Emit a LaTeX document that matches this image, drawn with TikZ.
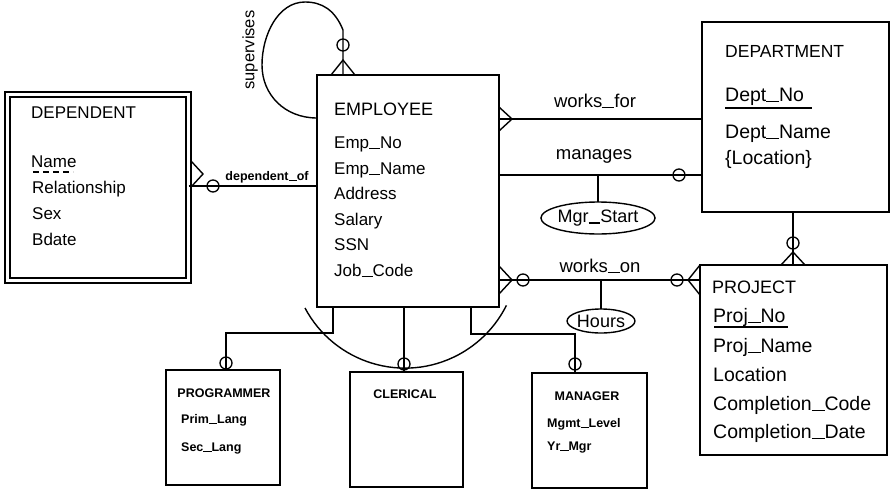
\documentclass[tikz,border=0pt]{standalone}
\usepackage{fontspec}
\setmainfont{Liberation Sans}
\usetikzlibrary{shapes.geometric}
% wide underscore as used in the attribute names
\newcommand\usc{\rule[-0.07em]{0.65em}{0.085em}}
\tikzset{
  ln/.style={line width=1.4pt},
  ebox/.style={draw, rectangle, line width=1.6pt, inner sep=0pt, outer sep=0pt, anchor=north west},
  circ/.style={draw, circle, line width=1.3pt, minimum size=12pt, inner sep=0pt, outer sep=0pt},
  attrell/.style={draw, ellipse, line width=1.4pt, inner sep=0pt, outer sep=0pt, font=\fontsize{18}{20}\selectfont},
  ttl/.style={anchor=base west, inner sep=0pt, font=\fontsize{17.5}{20}\selectfont},
  att/.style={anchor=base west, inner sep=0pt, font=\fontsize{17}{20}\selectfont},
  bigatt/.style={anchor=base west, inner sep=0pt, font=\fontsize{19.5}{22}\selectfont},
  rel/.style={anchor=base, inner sep=0pt, font=\fontsize{18.5}{20}\selectfont},
  smlttl/.style={anchor=base, inner sep=0pt, font=\bfseries\fontsize{12.5}{14}\selectfont},
  sml/.style={anchor=base west, inner sep=0pt, font=\bfseries\fontsize{12.5}{14}\selectfont},
}
\begin{document}
\begin{tikzpicture}[x=1pt, y=-1pt]
\useasboundingbox (0,0) rectangle (892,490);

% ---------- entity boxes ----------
\node[ebox, minimum width=182pt, minimum height=232pt] (emp) at (317,75) {};
\node[ebox, double, double distance=3.6pt, line width=1.4pt, minimum width=181pt, minimum height=186pt] (dep) at (7.5,94.5) {};
\node[ebox, minimum width=187pt, minimum height=190pt] (dept) at (702,22) {};
\node[ebox, minimum width=187pt, minimum height=190pt] (proj) at (700,265) {};
\node[ebox, minimum width=114pt, minimum height=115pt] (prog) at (166,370) {};
\node[ebox, minimum width=113pt, minimum height=115pt] (cler) at (350,372) {};
\node[ebox, minimum width=115pt, minimum height=115pt] (mgr) at (532,373) {};

% ---------- EMPLOYEE ----------
\node[ttl, font=\fontsize{18}{20}\selectfont] (empT) at (334,115) {EMPLOYEE};
\foreach \t/\y [count=\i] in {Emp\usc No/148, Emp\usc Name/174, Address/199, Salary/225, SSN/250, Job\usc Code/276}
  \node[att] (empA\i) at (334,\y) {\t};

% ---------- DEPENDENT ----------
\node[ttl, font=\fontsize{17}{20}\selectfont] (depT) at (31,118) {DEPENDENT};
\node[att] (depA1) at (31,167) {Name};
\foreach \t/\y [count=\i from 2] in {Relationship/193, Sex/219, Bdate/245}
  \node[att] (depA\i) at (32,\y) {\t};
\draw[line width=1.2pt, dash pattern=on 6pt off 4pt] (depA1.base west) ++(2,5) -- ++(40,0);

% ---------- DEPARTMENT ----------
\node[ttl] (deptT) at (725,57) {DEPARTMENT};
\node[bigatt] (deptA1) at (725,101) {Dept\usc No};
\draw[ln] (deptA1.base west) ++(0,7) -- ++(87,0);
\node[bigatt] (deptA2) at (725,138) {Dept\usc Name};
\node[bigatt] (deptA3) at (725,164) {\{Location\}};

% ---------- PROJECT ----------
\node[ttl, font=\fontsize{18}{20}\selectfont] (projT) at (712,293) {PROJECT};
\node[bigatt] (projA1) at (713,322) {Proj\usc No};
\draw[ln] (projA1.base west) ++(1,5) -- ++(74,0);
\foreach \t/\y [count=\i from 2] in {Proj\usc Name/352, Location/381, Completion\usc Code/410, Completion\usc Date/438}
  \node[bigatt] (projA\i) at (713,\y) {\t};

% ---------- subtypes ----------
\node[smlttl] (progT) at (224,397) {PROGRAMMER};
\node[sml] (progA1) at (181,423) {Prim\usc Lang};
\node[sml] (progA2) at (181,451) {Sec\usc Lang};
\node[smlttl] (clerT) at (405,398) {CLERICAL};
\node[smlttl] (mgrT) at (587,400) {MANAGER};
\node[sml] (mgrA1) at (547,427) {Mgmt\usc Level};
\node[sml] (mgrA2) at (547,450) {Yr\usc Mgr};

% ---------- relationship attributes ----------
\node[attrell, minimum width=103pt, minimum height=32pt] (mgrs) at (598,218) {Mgr\usc Start};
\node[attrell, minimum width=62pt, minimum height=24pt] (hrs) at (601,321) {Hours};

% ---------- optionality circles ----------
\node[circ] (cDep) at (213,186) {};
\node[circ] (cMan) at (679,175) {};
\node[circ] (cWoE) at (523,280) {};
\node[circ] (cWoP) at (677,280) {};
\node[circ] (cSup) at (343,45) {};
\node[circ] (cDP) at (793,243) {};
\node[circ] (cProg) at (226,363) {};
\node[circ] (cCler) at (404,364) {};
\node[circ] (cMgr) at (575,364) {};

% ---------- relationships ----------
% dependent_of
\draw[ln] (dep.east |- 0,186) -- (emp.west |- 0,186);
\draw[ln] (dep.east) ++(2.5,-26.5) -- ++(12,13) -- ++(-12,13);
\node[smlttl] (lDep) at (267,180) {dependent\usc of};

% works_for
\draw[ln] (emp.east |- 0,119) -- (dept.west |- 0,119);
\draw[ln] (emp.north east) ++(0,32) -- ++(13,12) -- ++(-13,12);
\node[rel] (lWf) at (595,107) {works\usc for};

% manages
\draw[ln] (emp.east |- 0,175) -- (dept.west |- 0,175);
\draw[ln] (mgrs.north |- 0,175) -- (mgrs.north);
\node[rel] (lMan) at (594,159) {manages};

% works_on
\draw[ln] (emp.east |- 0,280) -- (proj.west |- 0,280);
\draw[ln] (emp.east |- 0,266) -- (512,280) -- (emp.east |- 0,294);
\draw[ln] (proj.west |- 0,265) -- (688,280) -- (proj.west |- 0,295);
\draw[ln] (hrs.north |- 0,280) -- (hrs.north);
\node[rel] (lWo) at (600,272) {works\usc on};

% DEPARTMENT -- PROJECT
\draw[ln] (dept.south -| 793,0) -- (proj.north -| 793,0);
\draw[ln] (proj.north west) ++(81,0) -- ++(12,-13) -- ++(12,13);

% supervises (recursive)
\draw[ln] (emp.north -| 343,0) -- (343,30)
  .. controls (335,10) and (322,2) .. (305,2)
  .. controls (278,2) and (262,35) .. (262,65)
  .. controls (262,95) and (285,118) .. (emp.west |- 0,118);
\draw[ln] (emp.north west) ++(14,0) -- ++(12,-15) -- ++(12,15);
\node[rotate=90, inner sep=0pt, font=\fontsize{16.5}{18}\selectfont] (lSup) at (250,50) {supervises};

% ---------- subtype connectors ----------
\draw[ln] (emp.south -| 333,0) |- (226,333) -- (prog.north -| 226,0);
\draw[ln] (emp.south -| 404,0) -- (cler.north -| 404,0);
\draw[ln] (emp.south -| 471,0) |- (575,334) -- (mgr.north -| 575,0);
\draw[ln] (305,308) arc[start angle=152, end angle=26.5, radius=113.3];

\end{tikzpicture}
\end{document}
